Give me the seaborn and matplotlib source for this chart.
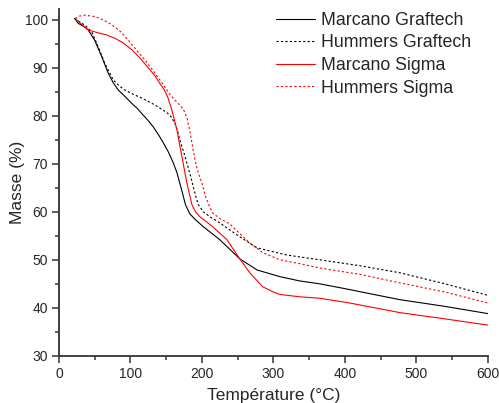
import pandas as pd
import seaborn as sns
import matplotlib.pyplot as plt
from matplotlib.ticker import MultipleLocator, AutoMinorLocator

# --- data ---
mg_temp = [22, 27, 35, 41, 50, 60, 69, 76, 83, 92, 102, 110, 117, 125, 132, 140, 146, 153,
           160, 165, 169, 173, 177, 183, 190, 202, 225, 253, 277, 309, 337, 365, 400, 440,
           477, 540, 600]
mg_mass = [100.3, 99.3, 98.6, 97.9, 95.8, 92.3, 88.9, 86.9, 85.4, 84.1, 82.6, 81.5, 80.3,
           79.0, 77.7, 75.9, 74.4, 72.5, 70.2, 68.2, 66.0, 63.8, 61.5, 59.6, 58.5, 56.9,
           54.2, 50.2, 47.9, 46.5, 45.6, 45.0, 44.0, 42.8, 41.7, 40.3, 38.8]

hg_temp = [22, 29, 38, 46, 55, 64, 76, 84, 92, 104, 116, 134, 151, 157, 162, 166, 169, 174,
           179, 184, 188, 192, 195, 202, 212, 225, 249, 277, 319, 365, 420, 477, 540, 600]
hg_mass = [100.3, 99.6, 98.7, 97.5, 94.4, 91.0, 87.5, 86.3, 85.4, 84.5, 83.7, 82.3, 80.7,
           79.8, 78.5, 76.9, 75.0, 72.7, 70.2, 67.5, 65.2, 62.9, 61.5, 60.0, 58.9, 57.7,
           55.2, 52.5, 51.0, 50.0, 48.8, 47.3, 45.0, 42.6]

ms_temp = [25, 30, 41, 55, 66, 78, 90, 102, 113, 124, 134, 141, 147, 152, 158, 165, 172,
           179, 186, 191, 197, 205, 215, 235, 253, 267, 285, 300, 309, 337, 365, 407, 477,
           540, 600]
ms_mass = [100.0, 99.3, 97.9, 97.3, 96.9, 96.2, 95.2, 93.8, 92.1, 90.2, 88.4, 86.8, 85.5,
           84.0, 81.2, 77.1, 71.5, 66.0, 61.5, 60.0, 59.0, 58.1, 56.9, 54.2, 50.2, 47.3,
           44.4, 43.3, 42.8, 42.3, 42.0, 41.0, 39.0, 37.7, 36.4]

hs_temp = [23, 29, 36, 50, 62, 74, 86, 97, 108, 120, 132, 144, 155, 162, 168, 174, 179, 183,
           187, 190, 195, 200, 205, 211, 215, 225, 239, 252, 267, 285, 309, 337, 365, 420,
           477, 540, 600]
hs_mass = [100.3, 100.8, 101.0, 100.7, 100.0, 99.0, 97.6, 95.8, 93.8, 91.7, 89.4, 86.9, 84.5,
           83.3, 82.4, 81.4, 79.6, 76.9, 73.6, 71.0, 68.0, 66.0, 63.2, 61.0, 59.8, 58.6,
           57.5, 55.6, 53.5, 51.5, 50.0, 49.2, 48.3, 47.0, 45.2, 43.3, 41.0]

labels = ['Marcano Graftech', 'Hummers Graftech', 'Marcano Sigma', 'Hummers Sigma']

sns.set_style('ticks')
plt.rcParams['font.family'] = ['Liberation Sans', 'DejaVu Sans']

fig = plt.figure(figsize=(4.99, 4.03), dpi=100)
ax = fig.add_axes([0.118, 0.117, 0.860, 0.861])

series = [
    (mg_temp, mg_mass, 'black', '-'),
    (hg_temp, hg_mass, 'black', (0, (2, 2))),
    (ms_temp, ms_mass, 'red', '-'),
    (hs_temp, hs_mass, 'red', (0, (2, 2))),
]
for (t, m, c, ls), lab in zip(series, labels):
    df = pd.DataFrame({'T': t, 'm': m})
    sns.lineplot(data=df, x='T', y='m', ax=ax, color=c, linestyle=ls,
                 linewidth=0.8, sort=False, estimator=None, label=lab)

ax.set_xlim(0, 600)
ax.set_ylim(30, 102.3)
ax.xaxis.set_major_locator(MultipleLocator(100))
ax.yaxis.set_major_locator(MultipleLocator(10))
ax.xaxis.set_minor_locator(AutoMinorLocator(2))
ax.yaxis.set_minor_locator(AutoMinorLocator(2))
ax.tick_params(which='major', length=5, width=1.1, labelsize=10, color='#333333', pad=3)
ax.tick_params(which='minor', length=3, width=1.1, color='#333333')
sns.despine(ax=ax)
for s in ['left', 'bottom']:
    ax.spines[s].set_linewidth(1.3)
    ax.spines[s].set_color('#333333')

ax.set_xlabel('Température (°C)', fontsize=12.5, labelpad=5)
ax.set_ylabel('Masse (%)', fontsize=12.5, labelpad=0)

ax.legend(loc='upper left', bbox_to_anchor=(0.506, 0.991), frameon=False,
          fontsize=12.8, handlelength=2.2, handletextpad=0.35, labelspacing=0.31,
          borderpad=0, borderaxespad=0)

plt.savefig('out.png', dpi=100)
